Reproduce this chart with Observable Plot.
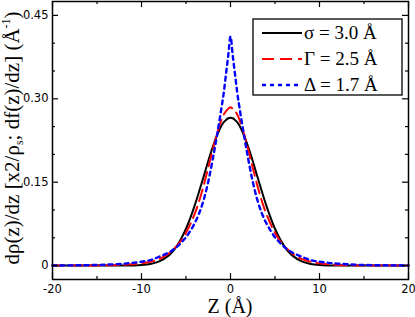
<!DOCTYPE html>
<html>
<head>
<meta charset="utf-8">
<script src="https://cdn.jsdelivr.net/npm/d3@7"></script>
<script src="https://cdn.jsdelivr.net/npm/@observablehq/plot@0.6"></script>
<style>
  html, body { margin: 0; padding: 0; background: #fff; }
  #chart { position: relative; width: 415px; height: 317px; }
  svg { display: block; }
</style>
</head>
<body>
<div id="chart"></div>
<script>
// Z positions (Å)
const zValues = [-20,-16,-14,-12,-11,-10,-9,-8,-7,-6.5,-6,-5.5,-5,-4.5,-4,-3.5,-3,-2.5,-2,-1.5,-1,-0.75,-0.5,-0.25,0,0.25,0.5,0.75,1,1.5,2,2.5,3,3.5,4,4.5,5,5.5,6,6.5,7,8,9,10,11,12,14,16,20];
// sigma = 3.0 Å (black, solid)
const sigmaValues = [0,0,0,0.0001,0.0003,0.001,0.003,0.0076,0.0175,0.0254,0.036,0.0495,0.0663,0.0864,0.1093,0.1347,0.161,0.188,0.213,0.2347,0.252,0.258,0.262,0.265,0.266,0.265,0.262,0.258,0.252,0.2347,0.213,0.188,0.161,0.1347,0.1093,0.0864,0.0663,0.0495,0.036,0.0254,0.0175,0.0076,0.003,0.001,0.0003,0.0001,0,0,0];
// Gamma = 2.5 Å (red, dashed)
const gammaValues = [0,0.0001,0.0004,0.0013,0.0023,0.004,0.007,0.012,0.021,0.028,0.036,0.046,0.059,0.075,0.094,0.117,0.145,0.176,0.208,0.238,0.263,0.272,0.278,0.282,0.285,0.282,0.278,0.272,0.263,0.238,0.208,0.176,0.145,0.117,0.094,0.075,0.059,0.046,0.036,0.028,0.021,0.012,0.007,0.004,0.0023,0.0013,0.0004,0.0001,0];
// Delta = 1.7 Å (blue, dotted)
const deltaValues = [0.0002,0.0008,0.0017,0.0035,0.005,0.007,0.010,0.016,0.023,0.028,0.034,0.042,0.051,0.063,0.077,0.095,0.119,0.151,0.191,0.236,0.285,0.312,0.345,0.378,0.412,0.378,0.345,0.312,0.285,0.236,0.191,0.151,0.119,0.095,0.077,0.063,0.051,0.042,0.034,0.028,0.023,0.016,0.010,0.007,0.005,0.0035,0.0017,0.0008,0.0002];

const seriesNames = ["σ = 3.0 Å", "Γ = 2.5 Å", "Δ = 1.7 Å"];
const xMajor = [-20,-10,0,10,20];
const xMinor = [-15,-5,5,15];
const yMajor = [0,0.15,0.30,0.45];
const yMinor = [0.05,0.10,0.20,0.25,0.35,0.40];

const W = 415, H = 317, ML = 52, MR = 7, MT = 1, MB = 38;
const PW = W - ML - MR, PH = H - MT - MB;

const styles = [
  {stroke: "#000000", strokeWidth: 2, dash: null},
  {stroke: "#ff0000", strokeWidth: 2, dash: "12,6"},
  {stroke: "#0000ff", strokeWidth: 2.4, dash: "4,4"}
];
const seriesVals = [sigmaValues, gammaValues, deltaValues];
const rows = seriesVals.map(vals => zValues.map((z, i) => ({z, v: vals[i]})));

const lineMarks = rows.map((data, k) => Plot.line(data, {
  x: "z", y: "v", stroke: styles[k].stroke, strokeWidth: styles[k].strokeWidth,
  strokeDasharray: styles[k].dash, curve: "catmull-rom"
}));

const tickW = 1.2;
const chart = Plot.plot({
  width: W, height: H,
  marginLeft: ML, marginRight: MR, marginTop: MT, marginBottom: MB,
  style: {fontFamily: "'DejaVu Sans', sans-serif", fontSize: "11.5px", color: "#000", background: "#fff"},
  x: {domain: [-20, 20]},
  y: {domain: [-0.025, 0.475]},
  marks: [
    ...lineMarks,
    Plot.tickY(yMajor, {y: d => d, insetRight: PW - 6, strokeWidth: tickW}),
    Plot.tickY(yMajor, {y: d => d, insetLeft: PW - 6, strokeWidth: tickW}),
    Plot.tickY(yMinor, {y: d => d, insetRight: PW - 3, strokeWidth: tickW}),
    Plot.tickY(yMinor, {y: d => d, insetLeft: PW - 3, strokeWidth: tickW}),
    Plot.tickX(xMajor, {x: d => d, insetTop: PH - 6, strokeWidth: tickW}),
    Plot.tickX(xMajor, {x: d => d, insetBottom: PH - 6, strokeWidth: tickW}),
    Plot.tickX(xMinor, {x: d => d, insetTop: PH - 3, strokeWidth: tickW}),
    Plot.tickX(xMinor, {x: d => d, insetBottom: PH - 3, strokeWidth: tickW}),
    Plot.frame({stroke: "#000", strokeWidth: 1.5}),
    Plot.axisX({ticks: xMajor, tickSize: 0, tickPadding: 5, tickFormat: d => String(d), label: null}),
    Plot.axisY({ticks: yMajor, tickSize: 0, tickPadding: 4, tickFormat: d => d === 0 ? "0" : d.toFixed(2), label: null})
  ]
});
document.getElementById("chart").appendChild(chart);

const svg = d3.select(chart);
const serif = "'Liberation Serif', 'Times New Roman', serif";

// X axis title
svg.append("text").attr("x", ML + PW / 2).attr("y", 313)
  .attr("text-anchor", "middle").attr("font-family", serif).attr("font-size", 20)
  .attr("fill", "#000").text("Z (Å)");

// Y axis title
const yt = svg.append("text")
  .attr("transform", `translate(19,${MT + PH / 2 - 2}) rotate(-90)`)
  .attr("text-anchor", "middle").attr("font-family", serif).attr("font-size", 21).attr("fill", "#000");
yt.append("tspan").text("dρ(z)/dz [x2/ρ");
yt.append("tspan").attr("font-size", 12).attr("dy", 4).text("s");
yt.append("tspan").attr("dy", -4).text("; df(z)/dz] (Å");
yt.append("tspan").attr("font-size", 12).attr("dy", -9).text("-1");
yt.append("tspan").attr("dy", 9).text(")");

// Legend
const lg = svg.append("g");
lg.append("rect").attr("x", 253).attr("y", 19).attr("width", 149).attr("height", 76)
  .attr("fill", "#fff").attr("stroke", "#000").attr("stroke-width", 1.3);
seriesNames.forEach((name, k) => {
  const cy = 33 + k * 26;
  lg.append("line").attr("x1", 262).attr("x2", 302).attr("y1", cy).attr("y2", cy)
    .attr("stroke", styles[k].stroke).attr("stroke-width", styles[k].strokeWidth)
    .attr("stroke-dasharray", styles[k].dash);
  lg.append("text").attr("x", 304).attr("y", cy + 6).attr("text-anchor", "start")
    .attr("font-family", serif).attr("font-size", 19).attr("fill", "#000").text(name);
});
</script>
</body>
</html>
